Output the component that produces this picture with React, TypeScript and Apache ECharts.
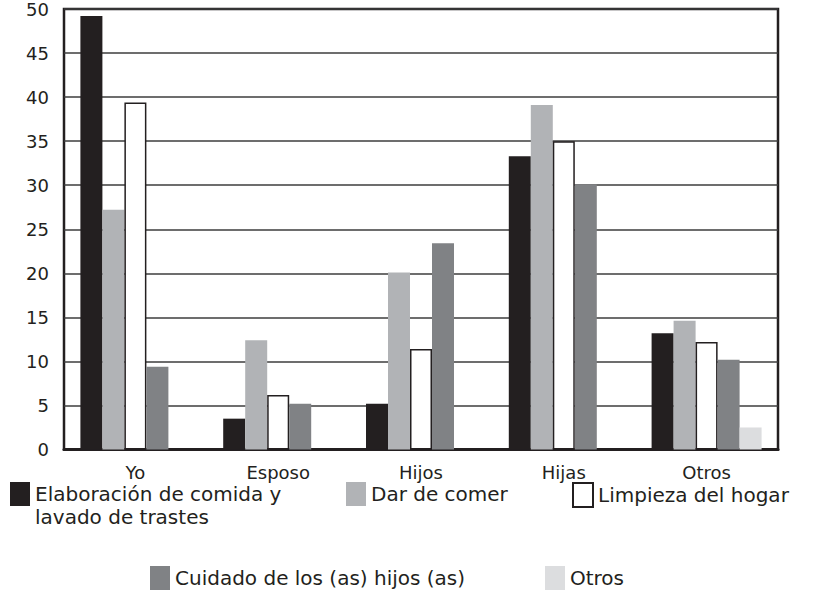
import React, { useEffect, useRef } from "react";
import * as echarts from "echarts";

const categories = ["Yo", "Esposo", "Hijos", "Hijas", "Otros"];
const seriesNames = [
  "Elaboración de comida y lavado de trastes",
  "Dar de comer",
  "Limpieza del hogar",
  "Cuidado de los (as) hijos (as)",
  "Otros",
];
const elaboracion = [49.2, 3.5, 5.2, 33.3, 13.2];
const darDeComer = [27.2, 12.4, 20.1, 39.1, 14.6];
const limpieza = [39.4, 6.2, 11.4, 35.0, 12.2];
const cuidado = [9.4, 5.2, 23.4, 30.1, 10.2];
const otros = [0, 0, 0, 0, 2.5];
const yTicks = [0, 5, 10, 15, 20, 25, 30, 35, 40, 45, 50];

const INK = "#231f20";
const FONT = "DejaVu Sans";

export default function App() {
  const ref = useRef<HTMLDivElement>(null);
  useEffect(() => {
    if (!ref.current) return;
    const chart = echarts.init(ref.current, null, { renderer: "svg" });
    const values = [elaboracion, darDeComer, limpieza, cuidado, otros];
    const styles = [
      { color: INK },
      { color: "#b1b3b6" },
      { color: "#ffffff", borderColor: INK, borderWidth: 1.5 },
      { color: "#808285" },
      { color: "#dcdddf" },
    ];
    const legendText = { fontFamily: FONT, fontSize: 20, color: INK };
    const legendBase = {
      orient: "horizontal" as const,
      padding: 0,
      itemWidth: 20,
      itemHeight: 24,
      icon: "rect",
      selectedMode: false,
      textStyle: legendText,
    };
    chart.setOption({
      animation: false,
      backgroundColor: "#ffffff",
      grid: {
        left: 64,
        right: 40,
        top: 8,
        bottom: 144.5,
        show: true,
        borderColor: INK,
        borderWidth: 2.5,
        backgroundColor: "#ffffff",
        containLabel: false,
      },
      legend: [
        {
          ...legendBase,
          left: 10,
          top: 482,
          itemHeight: 46,
          icon: "path://M0,0L20,0L20,24L0,24Z M0,46",
          data: [seriesNames[0]],
          formatter: () => "Elaboración de comida y\nlavado de trastes",
          textStyle: { ...legendText, lineHeight: 23 },
        },
        { ...legendBase, left: 346, top: 482, data: [seriesNames[1]] },
        { ...legendBase, left: 572, top: 482, data: [seriesNames[2]] },
        { ...legendBase, left: 150, top: 566, data: [seriesNames[3]] },
        { ...legendBase, left: 545, top: 566, data: [seriesNames[4]] },
      ],
      xAxis: {
        type: "category",
        data: categories,
        axisLine: { show: true, lineStyle: { color: INK, width: 3 } },
        axisTick: { show: false },
        axisLabel: {
          margin: 14,
          fontFamily: FONT,
          fontSize: 18,
          color: INK,
        },
        splitLine: { show: false },
      },
      yAxis: {
        type: "value",
        min: yTicks[0],
        max: yTicks[yTicks.length - 1],
        interval: 5,
        axisLine: { show: false },
        axisTick: { show: false },
        axisLabel: {
          margin: 15,
          fontFamily: FONT,
          fontSize: 18,
          color: INK,
        },
        splitLine: { show: true, lineStyle: { color: "#3c3c3c", width: 1.5 } },
      },
      series: values.map((v, i) => ({
        name: seriesNames[i],
        type: "bar",
        data: v,
        barWidth: 22,
        barGap: "0%",
        itemStyle: styles[i],
        emphasis: { disabled: true },
      })),
    });
    return () => chart.dispose();
  }, []);
  return (
    <div
      ref={ref}
      style={{ position: "fixed", left: 0, top: 0, width: 818, height: 594 }}
    />
  );
}
